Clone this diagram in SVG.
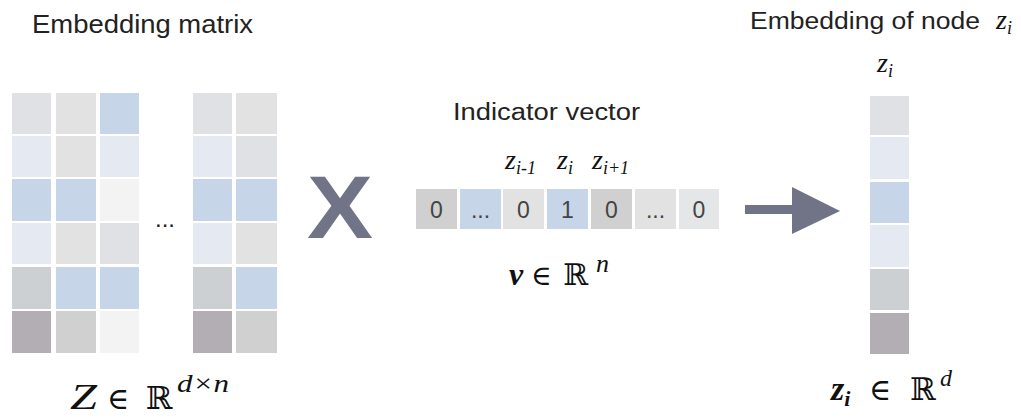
<svg xmlns="http://www.w3.org/2000/svg" width="1021" height="418" viewBox="0 0 1021 418">
<style>
.c1{fill:#dfe1e4}.c2{fill:#e2e2e2}.c3{fill:#c7d5e8}.c4{fill:#e4e9f2}.c5{fill:#f3f3f3}.c6{fill:#cdd0d2}.c7{fill:#b2aeb3}.c8{fill:#d0d0d0}.c9{fill:#e4e6e8}
.t{font-family:"Liberation Sans",Arial,sans-serif;fill:#222}
.m{font-family:"Liberation Serif","DejaVu Serif",serif;font-style:italic;fill:#111}
.bb{font-family:"DejaVu Serif",serif;fill:#111}
.d{font-family:"Liberation Sans",Arial,sans-serif;font-size:23px;fill:#444;text-anchor:middle}
.op{fill:#717387}
</style>
<rect width="1021" height="418" fill="#ffffff"/>

<g id="title-left">
<text class="t" x="32" y="33" font-size="25" textLength="221" lengthAdjust="spacingAndGlyphs">Embedding matrix</text>
</g>

<g id="embedding-matrix">
<rect class="c1" x="12" y="93" width="39" height="41"/><rect class="c2" x="56" y="93" width="40" height="41"/><rect class="c3" x="100" y="93" width="39" height="41"/>
<rect class="c4" x="12" y="136" width="39" height="41"/><rect class="c2" x="56" y="136" width="40" height="41"/><rect class="c4" x="100" y="136" width="39" height="41"/>
<rect class="c3" x="12" y="179" width="39" height="42"/><rect class="c3" x="56" y="179" width="40" height="42"/><rect class="c5" x="100" y="179" width="39" height="42"/>
<rect class="c4" x="12" y="223" width="39" height="41"/><rect class="c2" x="56" y="223" width="40" height="41"/><rect class="c1" x="100" y="223" width="39" height="41"/>
<rect class="c6" x="12" y="267" width="39" height="42"/><rect class="c3" x="56" y="267" width="40" height="42"/><rect class="c3" x="100" y="267" width="39" height="42"/>
<rect class="c7" x="12" y="311" width="39" height="42"/><rect class="c8" x="56" y="311" width="40" height="42"/><rect class="c5" x="100" y="311" width="39" height="42"/>
<text class="t" x="155" y="227" font-size="24">...</text>
<rect class="c1" x="193" y="93" width="39" height="41"/><rect class="c2" x="236" y="93" width="41" height="41"/>
<rect class="c4" x="193" y="136" width="39" height="41"/><rect class="c1" x="236" y="136" width="41" height="41"/>
<rect class="c3" x="193" y="179" width="39" height="42"/><rect class="c3" x="236" y="179" width="41" height="42"/>
<rect class="c4" x="193" y="223" width="39" height="41"/><rect class="c2" x="236" y="223" width="41" height="41"/>
<rect class="c6" x="193" y="267" width="39" height="42"/><rect class="c3" x="236" y="267" width="41" height="42"/>
<rect class="c7" x="193" y="311" width="39" height="42"/><rect class="c8" x="236" y="311" width="41" height="42"/>
</g>

<g id="label-Z">
<text class="m" x="70" y="409" font-size="35" textLength="27" lengthAdjust="spacingAndGlyphs">Z</text>
<text class="bb" x="107" y="409" font-size="30">∈</text>
<text class="bb" x="146" y="409" font-size="32">ℝ</text>
<text class="m" x="177" y="392" font-size="26" textLength="52" lengthAdjust="spacingAndGlyphs">d×n</text>
</g>

<g id="times">
<text class="op" x="307" y="238" font-family="Liberation Sans,Arial,sans-serif" font-weight="bold" font-size="89" textLength="66" lengthAdjust="spacingAndGlyphs">X</text>
</g>

<g id="indicator-vector">
<text class="t" x="453" y="120" font-size="23" fill="#333" textLength="187" lengthAdjust="spacingAndGlyphs">Indicator vector</text>
<text class="m" x="505" y="169" font-size="28">z<tspan font-size="18" dy="5">i-1</tspan></text>
<text class="m" x="557" y="169" font-size="28">z<tspan font-size="18" dy="5">i</tspan></text>
<text class="m" x="592" y="169" font-size="28">z<tspan font-size="18" dy="5">i+1</tspan></text>
<rect class="c8" x="416" y="189" width="41" height="40"/>
<rect class="c3" x="460" y="189" width="41" height="40"/>
<rect class="c2" x="503" y="189" width="41" height="40"/>
<rect class="c3" x="547" y="189" width="41" height="40"/>
<rect class="c8" x="591" y="189" width="41" height="40"/>
<rect class="c2" x="635" y="189" width="41" height="40"/>
<rect class="c9" x="679" y="189" width="40" height="40"/>
<text class="d" x="436.5" y="218">0</text>
<text class="d" x="480.5" y="218">...</text>
<text class="d" x="523.5" y="218">0</text>
<text class="d" x="567.5" y="218">1</text>
<text class="d" x="611.5" y="218">0</text>
<text class="d" x="655.5" y="218">...</text>
<text class="d" x="699" y="218">0</text>
</g>

<g id="label-v">
<text class="m" x="509" y="285" font-size="32" font-weight="bold">v</text>
<text class="bb" x="531" y="285" font-size="28">∈</text>
<text class="bb" x="563" y="285" font-size="30">ℝ</text>
<text class="m" x="596" y="272" font-size="26">n</text>
</g>

<g id="connectors">
<rect class="op" x="745" y="205" width="48" height="9"/>
<polygon class="op" points="792,187 840,211 792,234"/>
</g>

<g id="title-right">
<text class="t" x="750" y="29" font-size="23" textLength="230" lengthAdjust="spacingAndGlyphs">Embedding of node</text>
<text class="m" x="996" y="29" font-size="28">z<tspan font-size="18" dy="5">i</tspan></text>
</g>

<g id="node-embedding">
<text class="m" x="877" y="72" font-size="28">z<tspan font-size="18" dy="5">i</tspan></text>
<rect class="c1" x="870" y="96" width="39" height="39"/>
<rect class="c4" x="870" y="137" width="39" height="42"/>
<rect class="c3" x="870" y="182" width="39" height="41"/>
<rect class="c4" x="870" y="225" width="39" height="42"/>
<rect class="c6" x="870" y="269" width="39" height="41"/>
<rect class="c7" x="870" y="313" width="39" height="41"/>
</g>

<g id="label-zi">
<text class="m" x="831" y="400" font-size="34" font-weight="bold">z<tspan font-size="22" dy="6">i</tspan></text>
<text class="bb" x="869" y="400" font-size="30">∈</text>
<text class="bb" x="910" y="400" font-size="31">ℝ</text>
<text class="m" x="940" y="386" font-size="24">d</text>
</g>
</svg>
